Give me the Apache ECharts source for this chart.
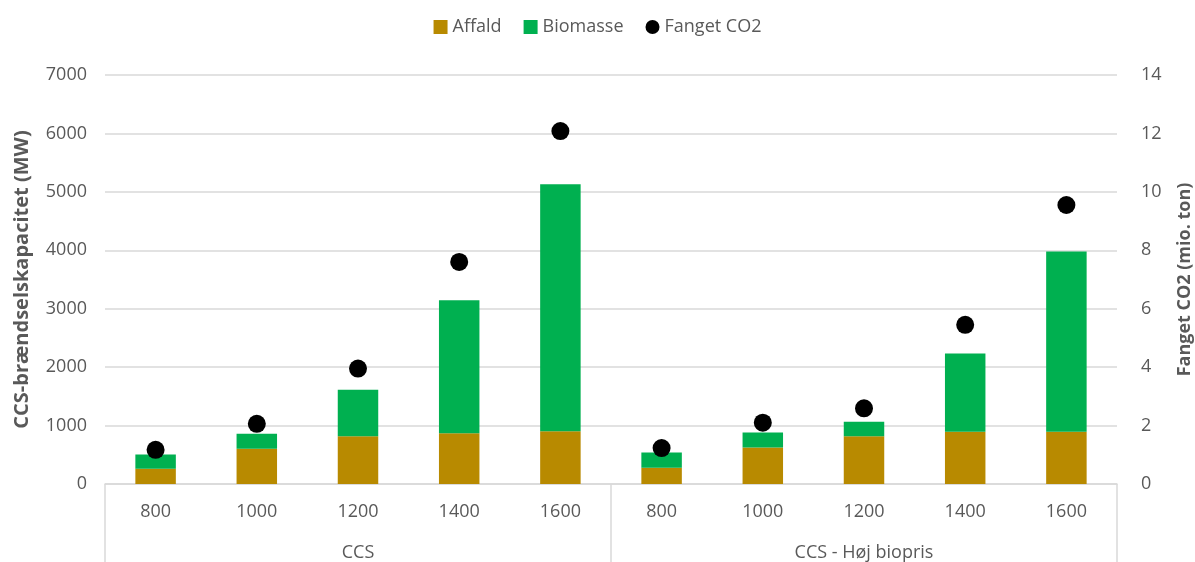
<!DOCTYPE html>
<html>
<head>
<meta charset="utf-8">
<script src="https://cdn.jsdelivr.net/npm/echarts@6/dist/echarts.min.js"></script>
<style>
  html, body { margin: 0; padding: 0; background: #fff; }
  #chart { width: 1195px; height: 562px; }
</style>
</head>
<body>
<div id="chart"></div>
<script>
// Capacity levels (MW) within each scenario
const capacities = ['800', '1000', '1200', '1400', '1600'];
const scenarios = ['CCS', 'CCS - Høj biopris'];

// Fuel capacity by fuel type (MW), CCS scenario then high-biomass-price scenario
const affald = [260, 602, 818, 870, 904, 277, 625, 818, 893, 893];
const biomasse = [245, 258, 794, 2276, 4227, 262, 256, 246, 1340, 3086];

// Captured CO2 (million tonnes)
const fangetCO2 = [1.17, 2.06, 3.95, 7.6, 12.08, 1.23, 2.10, 2.59, 5.45, 9.55];

const categories = scenarios.flatMap(() => capacities);

const textColor = '#595959';
const gridColor = '#d9d9d9';
const font = '"Open Sans", "Noto Sans", sans-serif';
const plain = v => String(v);

const chart = echarts.init(document.getElementById('chart'));
chart.setOption({
  animation: false,
  textStyle: { fontFamily: font },
  legend: {
    top: 13,
    left: 'center',
    itemGap: 22,
    itemWidth: 14,
    itemHeight: 14,
    textStyle: { color: textColor, fontSize: 18, fontFamily: font },
    data: [
      { name: 'Affald', icon: 'rect' },
      { name: 'Biomasse', icon: 'rect' },
      { name: 'Fanget CO2', icon: 'circle', itemStyle: { color: '#000' } }
    ]
  },
  grid: { left: 105, right: 78, top: 75, bottom: 78, containLabel: false, outerBoundsMode: 'none' },
  xAxis: [
    {
      type: 'category',
      data: categories,
      position: 'bottom',
      axisLine: { show: true, lineStyle: { color: gridColor, width: 1.5 } },
      axisTick: { show: false },
      axisLabel: { color: textColor, fontSize: 18, margin: 19, interval: 0, fontFamily: font }
    },
    {
      type: 'category',
      data: scenarios,
      position: 'bottom',
      axisLine: { show: false },
      axisTick: { show: true, interval: 0, length: 80, lineStyle: { color: gridColor, width: 1.5 } },
      axisLabel: { color: textColor, fontSize: 18, margin: 60, interval: 0, fontFamily: font }
    }
  ],
  yAxis: [
    {
      type: 'value',
      min: 0, max: 7000, interval: 1000,
      name: 'CCS-brændselskapacitet (MW)',
      nameLocation: 'middle',
      nameGap: 73,
      nameTextStyle: { color: textColor, fontSize: 20, fontWeight: 'bold', fontFamily: font },
      axisLabel: { color: textColor, fontSize: 18, margin: 18, fontFamily: font, formatter: plain },
      splitLine: { lineStyle: { color: gridColor, width: 1.5 } },
      axisLine: { show: false },
      axisTick: { show: false }
    },
    {
      type: 'value',
      min: 0, max: 14, interval: 2,
      name: 'Fanget CO2 (mio. ton)',
      nameLocation: 'middle',
      nameGap: 59,
      nameRotate: 90,
      nameTextStyle: { color: textColor, fontSize: 18, fontWeight: 'bold', fontFamily: font },
      axisLabel: { color: textColor, fontSize: 18, margin: 24, fontFamily: font, formatter: plain },
      splitLine: { show: false },
      axisLine: { show: false },
      axisTick: { show: false }
    }
  ],
  series: [
    {
      name: 'Affald',
      type: 'bar',
      stack: 'fuel',
      barWidth: '40%',
      itemStyle: { color: '#B88A00' },
      data: affald
    },
    {
      name: 'Biomasse',
      type: 'bar',
      stack: 'fuel',
      barWidth: '40%',
      itemStyle: { color: '#00B050' },
      data: biomasse
    },
    {
      name: 'Fanget CO2',
      type: 'scatter',
      yAxisIndex: 1,
      symbol: 'circle',
      symbolSize: 18,
      itemStyle: { color: '#000', opacity: 1 },
      z: 5,
      data: fangetCO2
    }
  ]
});
</script>
</body>
</html>
